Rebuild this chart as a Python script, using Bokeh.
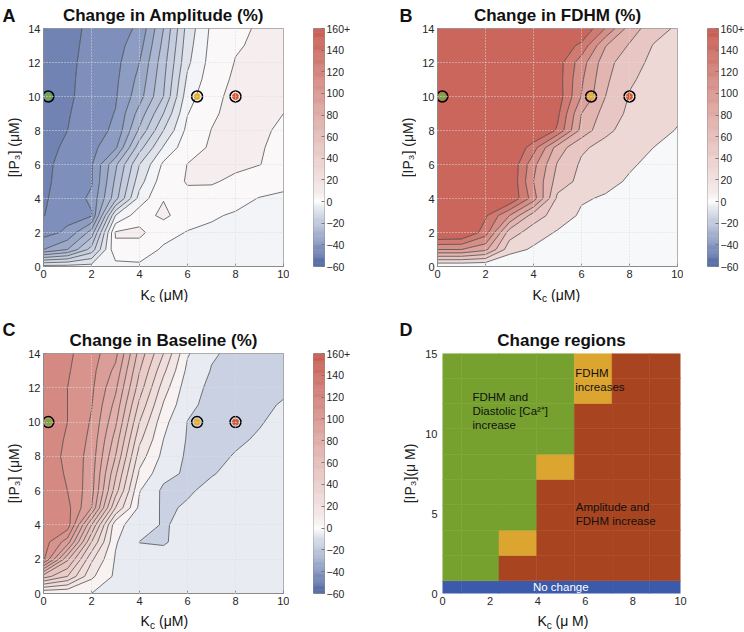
import numpy as np
from bokeh.plotting import figure
from bokeh.models import Range1d, FixedTicker, Label, Title
from bokeh.layouts import row, column
from bokeh.embed import file_html
from bokeh.resources import INLINE

FONT = "Liberation Sans"
DESC = 0.3  # observed: drawn baseline lies this fraction of font size below the Label y

# ---------------- data ----------------
kc_grid = [0, 1, 2, 3, 4, 5, 6, 7, 8, 9, 10]
ip3_grid = [0, 1, 2, 3, 4, 5, 6, 7, 8, 9, 10, 11, 12, 13, 14]

amplitude_change = [
    [-3, -3, -3, -2, -1, -1, -1, -1, -1, -1, -1],
    [-35, -30, -18, 4, 3, -0.8, -1, -1, -1, -1, -1],
    [-42, -39, -28, 5.5, 6, 2, -0.3, -0.8, -1, -1.3, -1.5],
    [-45.2, -41.5, -40.5, -5, 3, 6, 2.5, 0.5, -0.5, -1, -1.5],
    [-45.5, -43, -39, -22, -3, 4.8, 4, 3, 1.5, -0.2, -1],
    [-46, -43, -40.5, -24, -7, 3, 5.3, 5.5, 4, 2.5, 1.5],
    [-46, -43.5, -40.5, -26, -10, 1, 5.1, 6, 6, 5.1, 3.5],
    [-46.5, -44.2, -41.5, -36, -17, -4.5, 3.3, 5.5, 6.2, 5.3, 4],
    [-47, -45, -41.8, -39.2, -24, -10, 1.5, 5.1, 6.5, 5.5, 4.5],
    [-47.2, -45.4, -42.4, -39.8, -28, -15, -0.2, 4.3, 6.5, 6, 5],
    [-47.5, -45.8, -43, -40.5, -32, -20, -2, 3.5, 6.5, 6.5, 5.5],
    [-47.7, -45.9, -43.2, -41, -33.5, -21, -4, 2.7, 5.8, 6.2, 5.8],
    [-48, -46, -43.5, -41.5, -35, -22, -6, 2, 5.2, 6, 6],
    [-48, -46.2, -43.8, -42, -37, -23.5, -7, 1.5, 4.6, 5.7, 6],
    [-48, -46.5, -44, -42.5, -39, -25, -8, 1, 4, 5.5, 6],
]

fdhm_change = [
    [0, 0, 0, 0, 0, 0, 0, 0, 0, 0, 0],
    [100, 100, 85, 28, 17, 11, 8, 6, 5, 4, 4],
    [168, 165, 130, 50, 30, 18, 12, 9, 7, 6, 5],
    [170, 168, 143, 100, 50, 31, 17, 12, 9, 7, 6],
    [170, 170, 168, 160, 110, 35, 22, 18, 13, 10, 8],
    [170, 170, 170, 160, 100, 51, 34, 25, 18, 13, 10],
    [170, 170, 170, 160, 106, 58, 37, 30, 22, 16, 12],
    [170, 170, 170, 165, 129, 71, 43, 34, 27, 20, 15],
    [170, 170, 170, 170, 165, 137, 73, 44, 33, 26, 19],
    [170, 170, 170, 170, 170, 145, 80, 52, 36, 29, 23],
    [170, 170, 170, 170, 170, 152, 99, 60, 39, 33, 26],
    [170, 170, 170, 170, 170, 150, 103, 64, 42, 35, 29],
    [170, 170, 170, 170, 170, 150, 109, 68, 47, 36, 31],
    [170, 170, 170, 170, 170, 155, 135, 81, 58, 39, 34],
    [170, 170, 170, 170, 170, 170, 160, 119, 71, 48, 37],
]

baseline_change = [
    [0, 0, 0, -1, -2, -3, -3, -3, -3, -3, -3],
    [55, 40, 12, -2, -4, -5, -5, -4.5, -4, -4, -4],
    [112, 62, 22, -1, -6, -8, -8, -7, -6, -5, -5],
    [115, 95, 40, 1, -10.2, -10.5, -8, -6, -5, -4.5, -4.5],
    [118, 116, 60, 3, -5, -11, -7, -5, -4, -4, -4],
    [117, 113, 90, 30, -2.5, -11.5, -9, -6.5, -5.2, -5, -4.7],
    [115, 110, 94, 45, 0.5, -12, -11, -8, -6.5, -6, -5.5],
    [115, 109, 95, 52, 8, -7, -11.5, -10.5, -8, -7, -6.3],
    [115, 108, 96, 60, 15, -3, -11.5, -12, -9.5, -8, -7],
    [115, 109, 97.5, 66, 22.5, 0, -10.8, -12.5, -11.2, -9.2, -7.5],
    [115, 110, 99, 72, 30, 3, -10.2, -13, -13, -10.5, -8],
    [115, 110, 100.5, 77, 37.5, 9, -8, -12.5, -12.7, -11.2, -9.5],
    [115, 110, 102, 82, 45, 15, -6, -12, -12.5, -12, -11],
    [115, 111, 103, 87.5, 50.5, 22.5, -2.5, -10.5, -12.2, -12, -11.2],
    [115, 112, 104, 93, 56, 30, 1, -9, -12, -12, -11.5],
]

amplitude_levels = list(range(-60, 165, 5))
fdhm_levels = [20, 40, 60, 80, 100, 120, 140]
baseline_levels = list(range(-20, 130, 10))

cbar_low, cbar_high = -60, 160
cbar_ticks = [-60, -40, -20, 0, 20, 40, 60, 80, 100, 120, 140, 160]
cbar_top_label = "160+"

x_ticks = [0, 2, 4, 6, 8, 10]
y_ticks = [0, 2, 4, 6, 8, 10, 12, 14]

marker_kc = [0.2, 6.4, 8.0]
marker_ip3 = [10.0, 10.0, 10.0]
marker_colors = ["#6fae3b", "#e8b02c", "#d9542f"]

region_step = 1.5833
region_codes = [
    [0, 0, 0, 0, 0, 0, 0],
    [1, 1, 3, 3, 3, 3, 3],
    [1, 1, 2, 3, 3, 3, 3],
    [1, 1, 1, 3, 3, 3, 3],
    [1, 1, 1, 3, 3, 3, 3],
    [1, 1, 1, 2, 3, 3, 3],
    [1, 1, 1, 1, 3, 3, 3],
    [1, 1, 1, 1, 3, 3, 3],
    [1, 1, 1, 1, 2, 3, 3],
    [1, 1, 1, 1, 2, 3, 3],
]
region_colors = ["#3b5aab", "#76a12f", "#dca530", "#a8441f"]
d_y_ticks = [0, 5, 10, 15]

# ---------------- colour map (style) ----------------
CMAP_ANCHORS = [
    (-60, (75, 100, 158)), (-50, (105, 125, 175)), (-40, (132, 149, 190)),
    (-30, (163, 176, 205)), (-20, (190, 199, 220)), (-10, (214, 219, 231)),
    (-5, (232, 235, 242)), (0, (253, 253, 254)), (5, (248, 242, 242)),
    (10, (244, 234, 234)), (20, (241, 225, 224)), (40, (235, 207, 204)),
    (60, (229, 190, 186)), (80, (224, 172, 167)), (100, (217, 152, 146)),
    (120, (211, 132, 124)), (140, (205, 112, 103)), (160, (199, 92, 82)),
]


def cmap(v):
    v = max(cbar_low, min(cbar_high, v))
    for (v0, c0), (v1, c1) in zip(CMAP_ANCHORS[:-1], CMAP_ANCHORS[1:]):
        if v0 <= v <= v1:
            t = (v - v0) / float(v1 - v0)
            return "#%02x%02x%02x" % tuple(int(round(c0[i] + (c1[i] - c0[i]) * t)) for i in range(3))
    return "#ffffff"


def blank_fig(w, h, top=0, bottom=0, title=None):
    kw = {}
    if title is not None:
        kw["title"] = title
    f = figure(frame_width=w, frame_height=h, x_range=Range1d(0, w), y_range=Range1d(h, 0),
               x_axis_location=None, y_axis_location=None, min_border_left=0,
               min_border_right=0, min_border_top=top, min_border_bottom=bottom,
               output_backend="svg", toolbar_location=None, **kw)
    f.grid.visible = False
    f.outline_line_color = None
    f.background_fill_color = "white"
    f.border_fill_color = "white"
    return f


def add_text(p, x, y, text, size, bold=False, align="left", color="#111111",
             baseline="alphabetic", angle=0.0):
    p.add_layout(Label(x=x, y=y, text=text, text_font=FONT, text_font_size="%gpx" % size,
                       text_font_style="bold" if bold else "normal", text_align=align,
                       text_baseline=baseline, text_color=color, angle=angle))


def px_text(p, x, base, text, size, **kw):
    # pixel-space figure with y pointing down; base = wanted baseline position
    add_text(p, x, base - DESC * size, text, size, **kw)


def make_title(text, standoff, size=17, align="center", offset=0):
    return Title(text=text, align=align, offset=offset, text_font=FONT,
                 text_font_size="%gpx" % size, text_font_style="bold",
                 text_color="#111111", standoff=standoff)


def side_fig(w, fh, top, letter, letter_x, letter_standoff, ylabel, ylabel_x):
    # letter sits in the title panel above; y label inside the frame (frames align in a row)
    f = blank_fig(w, fh, top=top, bottom=16,
                  title=make_title(letter, letter_standoff, size=18, align="left",
                                   offset=letter_x))
    add_text(f, ylabel_x, fh / 2.0, ylabel, 14, align="center", baseline="middle",
             color="#222222", angle=np.pi / 2)
    return f


def style_axes(p, yt, box=True, ystand=3):
    p.xaxis.ticker = FixedTicker(ticks=x_ticks)
    p.yaxis.ticker = FixedTicker(ticks=yt)
    for ax in (p.xaxis, p.yaxis):
        ax.major_label_text_font = FONT
        ax.major_label_text_font_size = "11px"
        ax.major_label_text_color = "#262626"
        ax.minor_tick_line_color = None
        ax.major_tick_in = 3
        ax.major_tick_out = 0
        ax.axis_line_color = "#8a8a8a" if box else None
        ax.major_tick_line_color = "#8a8a8a" if box else None
    p.xaxis.major_label_standoff = 3
    p.yaxis.major_label_standoff = ystand
    p.outline_line_color = "#9a9a9a" if box else None
    p.background_fill_color = "white"
    p.border_fill_color = "white"


def contour_fig(z, levels, title, top, fh, standoff, floor_value=None):
    p = figure(frame_width=240, frame_height=fh, min_border_left=21, min_border_top=top,
               min_border_right=6, min_border_bottom=16, x_range=Range1d(0, 10),
               y_range=Range1d(0, 14), output_backend="svg", toolbar_location=None,
               title=make_title(title, standoff))
    style_axes(p, y_ticks)
    lv = [-1000.0] + [float(l) for l in levels] + [1000.0]
    fills = []
    for lo, hi in zip(lv[:-1], lv[1:]):
        if lo < -999:
            m = hi - 2.5 if floor_value is None else floor_value
        elif hi > 999:
            m = lo + 10
        else:
            m = (lo + hi) / 2.0
        fills.append(cmap(m))
    p.contour(kc_grid, ip3_grid, np.array(z, dtype=float), lv, fill_color=fills,
              line_color="#3a3a3a", line_width=0.7)
    p.grid.grid_line_color = "#dcdcdc"
    p.grid.grid_line_dash = "1 2"
    p.grid.level = "guide"
    p.xgrid.ticker = FixedTicker(ticks=x_ticks)
    p.ygrid.ticker = FixedTicker(ticks=y_ticks)
    p.scatter(marker_kc, marker_ip3, size=11, fill_color=None, line_color="black", line_width=1.5)
    p.scatter(marker_kc, marker_ip3, size=6, fill_color=marker_colors, line_color=marker_colors)
    return p


def cbar_fig(fh, left, right, top):
    f = figure(frame_width=11, frame_height=fh, x_range=Range1d(0, 1),
               y_range=Range1d(cbar_low, cbar_high), x_axis_location=None,
               y_axis_location="right", min_border_left=left, min_border_right=right,
               min_border_top=top, min_border_bottom=16, output_backend="svg",
               toolbar_location=None)
    vals = np.linspace(cbar_low, cbar_high, 221)
    cols = [cmap((a + b) / 2.0) for a, b in zip(vals[:-1], vals[1:])]
    f.quad(left=0, right=1, bottom=vals[:-1], top=vals[1:], fill_color=cols, line_color=cols,
           line_width=0.5)
    f.grid.visible = False
    f.outline_line_color = "#9a9a9a"
    ax = f.yaxis[0]
    ax.ticker = FixedTicker(ticks=cbar_ticks)
    ax.major_label_overrides = {160: cbar_top_label}
    ax.major_label_text_font = FONT
    ax.major_label_text_font_size = "10.5px"
    ax.major_label_text_color = "#262626"
    ax.major_label_standoff = 2
    ax.axis_line_color = None
    ax.major_tick_in = 3
    ax.major_tick_out = 0
    ax.major_tick_line_color = "#777777"
    ax.minor_tick_line_color = None
    f.background_fill_color = "white"
    f.border_fill_color = "white"
    return f


YL = "[IP\u2083] (\u03bcM)"

# ---------------- row 1 (282 px + footer 20) ----------------
R1_TOP, R1_FH = 28, 238
sA = side_fig(22, R1_FH, R1_TOP, "A", 2, 6, YL, 13)
pA = contour_fig(amplitude_change, amplitude_levels, "Change in Amplitude (%)", R1_TOP, R1_FH, 7)
cA = cbar_fig(R1_FH, 24, 48, R1_TOP)
sB = side_fig(44, R1_FH, R1_TOP, "B", 27, 6, YL, 35)
pB = contour_fig(fdhm_change, fdhm_levels, "Change in FDHM (%)", R1_TOP, R1_FH, 7,
                 floor_value=-1.5)
cB = cbar_fig(R1_FH, 24, 26, R1_TOP)

fA = blank_fig(372, 20)
px_text(fA, 140, 16.2, "K", 14)
px_text(fA, 149.5, 18.5, "c", 10)
px_text(fA, 158.5, 16.2, "(\u03bcM)", 14)
fB = blank_fig(372, 20)
px_text(fB, 160, 16.2, "K", 14)
px_text(fB, 169.5, 18.5, "c", 10)
px_text(fB, 178.5, 16.2, "(\u03bcM)", 14)

# ---------------- row 2 (307 px + footer 23) ----------------
R2_TOP, R2_FH = 51, 240
sC = side_fig(22, R2_FH, R2_TOP, "C", 2, 28, YL, 13)
pC = contour_fig(baseline_change, baseline_levels, "Change in Baseline (%)", R2_TOP, R2_FH, 7)
cC = cbar_fig(R2_FH, 24, 48, R2_TOP)

sD = side_fig(49, R2_FH, R2_TOP, "D", 27, 28, "[IP\u2083](\u03bc M)", 37)
pD = figure(frame_width=238, frame_height=R2_FH, min_border_left=21, min_border_top=R2_TOP,
            min_border_right=64, min_border_bottom=16, x_range=Range1d(0, 10),
            y_range=Range1d(0, 15), output_backend="svg", toolbar_location=None,
            title=make_title("Change regions", 7))
style_axes(pD, d_y_ticks, box=False, ystand=5)
pD.grid.grid_line_color = None
cx, cy, cc = [], [], []
for i, rowc in enumerate(region_codes):
    for j, code in enumerate(rowc):
        cx.append(j * region_step)
        cy.append(i * region_step)
        cc.append(region_colors[code])
pD.rect(cx, cy, width=region_step, height=region_step, fill_color=cc, line_color=cc,
        line_width=0.5)
dshift = 0.25 * 11.5 / (R2_FH / 15.0)
add_text(pD, 1.26, 12.1 + dshift, "FDHM and", 11.5)
add_text(pD, 1.26, 11.24 + dshift, "Diastolic [Ca\u00b2\u207a]", 11.5)
add_text(pD, 1.26, 10.38 + dshift, "increase", 11.5)
add_text(pD, 5.58, 13.6 + dshift, "FDHM", 11.5)
add_text(pD, 5.58, 12.74 + dshift, "increases", 11.5)
add_text(pD, 5.6, 5.23 + dshift, "Amplitude and", 11.5)
add_text(pD, 5.6, 4.37 + dshift, "FDHM increase", 11.5)
add_text(pD, 4.97, 0.23 + dshift, "No change", 11.5, align="center", color="white")

fC = blank_fig(372, 23)
px_text(fC, 140, 16, "K", 14)
px_text(fC, 149.5, 18.5, "c", 10)
px_text(fC, 158.5, 16, "(\u03bcM)", 14)
fD = blank_fig(372, 23)
px_text(fD, 165, 16, "K", 14)
px_text(fD, 174.3, 18.5, "c", 10)
px_text(fD, 183, 16, "(\u03bc M)", 14)

layout = column(
    row(sA, pA, cA, sB, pB, cB),
    row(fA, fB),
    row(sC, pC, cC, sD, pD),
    row(fC, fD),
)
open("out.html", "w").write(file_html(layout, INLINE))
